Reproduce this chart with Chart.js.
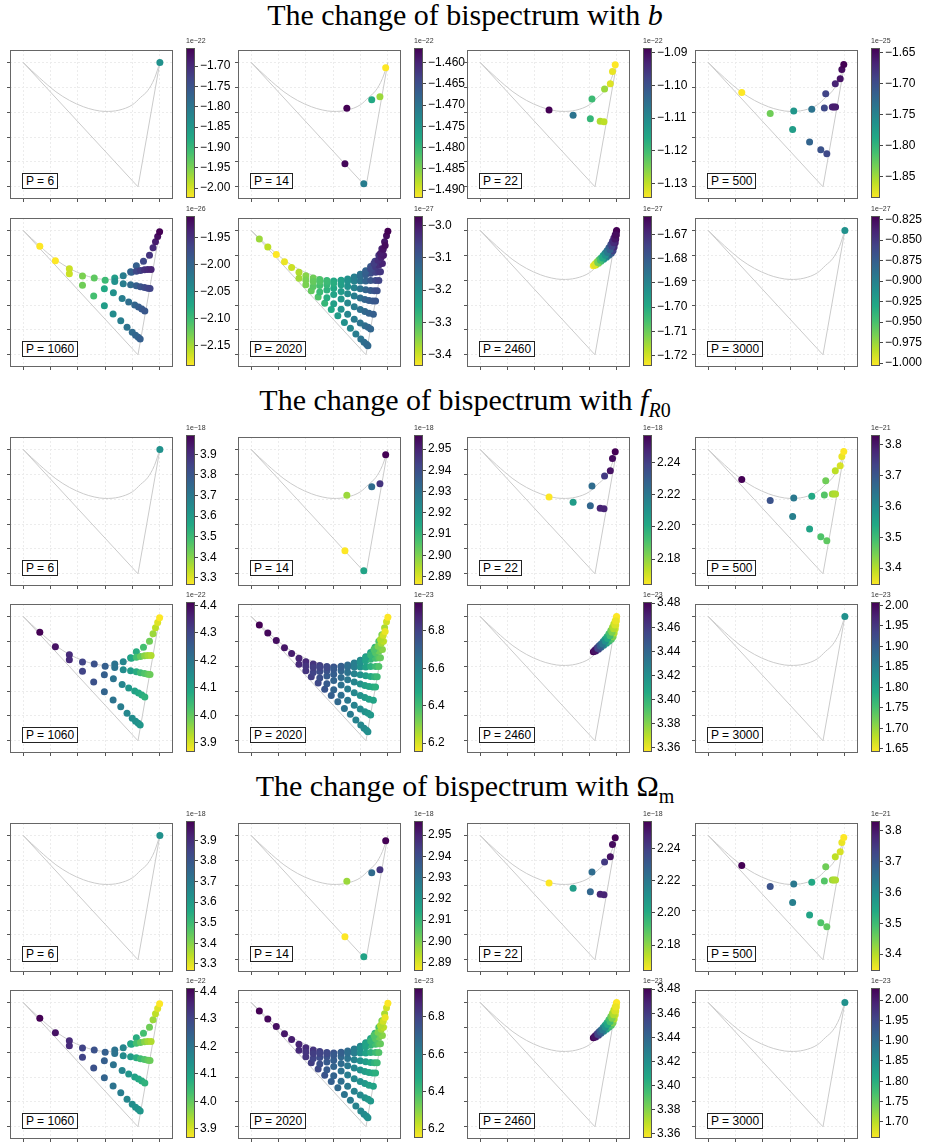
<!DOCTYPE html>
<html>
<head>
<meta charset="utf-8">
<script src="https://cdn.jsdelivr.net/npm/chart.js@4.4.1/dist/chart.umd.min.js"></script>
<style>
body { margin: 0; background: #fff; width: 930px; height: 1144px; position: relative; overflow: hidden;
       font-family: "Liberation Sans", Arial, sans-serif; }
.title { position: absolute; left: 0; width: 930px; text-align: center; font-family: "Liberation Serif", serif;
         font-size: 30px; line-height: 30px; color: #000; white-space: nowrap; }
.title sub { font-size: 20px; line-height: 0; }
canvas { position: absolute; }
.plab { position: absolute; border: 1px solid #222; background: #fff; font-size: 12px; line-height: 14px;
        padding: 0 3px; color: #000; white-space: nowrap; }
.expo { position: absolute; font-size: 7px; line-height: 8px; color: #333; white-space: nowrap; }
</style>
</head>
<body>
<div class="title" style="top:0px">The change of bispectrum with <i>b</i></div>
<div class="title" style="top:385px">The change of bispectrum with <i>f</i><sub><i>R</i>0</sub></div>
<div class="title" style="top:771px">The change of bispectrum with Ω<sub>m</sub></div>
<script>
/* bispectrum panels — 3 parameters x 8 values of P, coloured by viridis_r */

// ── Outline of the configuration space ────────────────────────────────────
const curveX = [0, 0.6, 1.2, 1.7, 2.2, 2.6, 3.0, 3.5, 4.0, 4.3, 4.55, 4.8, 5.0];
const curveY = [5, 4.38, 3.82, 3.47, 3.22, 3.09, 3.03, 3.08, 3.30, 3.60, 3.86, 4.35, 5.0];
const edgeX  = [0, 4.2, 5.0];
const edgeY  = [5, 0, 5];

// ── Point positions (same for every parameter) ────────────────────────────
const P6_x = [5.0];
const P6_y = [5.0];
const P14_x = [3.50, 4.41, 4.71, 4.92, 3.43, 4.12];
const P14_y = [3.16, 3.50, 3.62, 4.79, 0.93, 0.12];
const P22_x = [2.52, 3.40, 4.09, 4.03, 4.39, 4.53, 4.55, 4.76, 4.84, 4.94];
const P22_y = [3.09, 2.88, 3.53, 2.74, 2.64, 2.62, 3.93, 4.14, 4.64, 4.91];
const P500_x = [1.23, 2.27, 3.13, 3.79, 3.09, 3.71, 4.12, 4.34, 4.25, 4.30, 4.54, 4.60, 4.66, 4.65, 4.83, 4.89, 4.96];
const P500_y = [3.79, 2.95, 3.05, 3.12, 2.30, 1.80, 1.49, 1.33, 3.17, 3.74, 3.21, 3.21, 3.21, 4.14, 4.34, 4.72, 4.92];
const P1060_x = [0.61, 1.18, 1.69, 2.17, 2.60, 3.00, 3.35, 3.66, 3.93, 4.14, 4.40, 4.62, 4.75, 4.84, 4.92, 4.99,
                 1.69, 2.17, 2.58, 2.97, 3.29, 3.57, 3.80, 3.99, 4.11, 4.21, 4.28,
                 2.97, 3.30, 3.62, 3.86, 4.08, 4.22, 4.34, 4.45,
                 3.35, 3.66, 3.93, 4.14, 4.29, 4.44, 4.56, 4.64,
                 3.96, 4.14, 4.29, 4.44, 4.56, 4.68];
const P1060_y = [4.36, 3.78, 3.46, 3.17, 3.09, 3.00, 3.09, 3.18, 3.34, 3.58, 3.76, 4.00, 4.30, 4.55, 4.76, 4.95,
                 3.26, 2.80, 2.36, 1.97, 1.64, 1.37, 1.11, 0.91, 0.79, 0.71, 0.64,
                 2.66, 2.49, 2.26, 2.12, 2.00, 1.92, 1.84, 1.76,
                 2.95, 2.86, 2.82, 2.78, 2.74, 2.71, 2.68, 2.67,
                 3.32, 3.36, 3.39, 3.42, 3.43, 3.43];
const P2020_x = [0.30, 0.61, 0.92, 1.22, 1.48, 1.75, 2.00, 2.27, 2.51, 2.77, 3.02, 3.29, 3.53, 3.77, 3.99, 4.19, 4.37, 4.53, 4.67, 4.78, 4.88, 4.95, 5.00,
                 1.75, 2.00, 2.20, 2.45, 2.69, 2.93, 3.17, 3.41, 3.63, 3.83, 4.01, 4.13, 4.22, 4.27,
                 2.00, 2.27, 2.51, 2.77, 3.02, 3.29, 3.53, 3.77, 3.99, 4.16, 4.28, 4.37,
                 2.27, 2.51, 2.77, 3.02, 3.29, 3.53, 3.77, 3.99, 4.16, 4.31, 4.47,
                 2.51, 2.77, 3.02, 3.29, 3.53, 3.77, 3.99, 4.16, 4.31, 4.45, 4.55,
                 2.77, 3.02, 3.29, 3.53, 3.77, 3.99, 4.19, 4.37, 4.51, 4.61,
                 3.29, 3.53, 3.77, 3.99, 4.19, 4.37, 4.55, 4.67,
                 3.77, 3.99, 4.19, 4.37, 4.55, 4.67, 4.73,
                 4.19, 4.37, 4.55, 4.67, 4.80,
                 4.49, 4.64, 4.76, 4.84,
                 4.73, 4.83, 4.90];
const P2020_y = [4.66, 4.33, 4.03, 3.74, 3.51, 3.32, 3.18, 3.09, 3.03, 2.99, 2.97, 3.00, 3.05, 3.13, 3.24, 3.38, 3.55, 3.76, 4.00, 4.26, 4.55, 4.79, 4.97,
                 3.08, 2.82, 2.58, 2.32, 2.07, 1.82, 1.57, 1.30, 1.07, 0.84, 0.64, 0.51, 0.42, 0.36,
                 3.01, 2.75, 2.53, 2.29, 2.05, 1.83, 1.63, 1.43, 1.28, 1.17, 1.11, 1.04,
                 2.95, 2.79, 2.61, 2.42, 2.24, 2.08, 1.93, 1.82, 1.74, 1.67, 1.63,
                 2.95, 2.82, 2.68, 2.55, 2.45, 2.36, 2.28, 2.22, 2.18, 2.16, 2.16,
                 2.95, 2.88, 2.82, 2.75, 2.70, 2.66, 2.62, 2.59, 2.58, 2.58,
                 2.97, 2.97, 2.97, 2.97, 2.97, 2.99, 2.99, 2.99,
                 3.11, 3.16, 3.22, 3.28, 3.32, 3.34, 3.34,
                 3.34, 3.45, 3.54, 3.61, 3.67,
                 3.67, 3.80, 3.92, 4.00,
                 4.07, 4.24, 4.39];
const P2460_x = [4.14, 4.21, 4.28, 4.35, 4.42, 4.50, 4.57, 4.64, 4.71, 4.78, 4.84, 4.89, 4.94, 4.98, 4.99,
                 4.23, 4.33, 4.42, 4.52, 4.62, 4.71, 4.80, 4.86, 4.90, 4.94, 4.96, 4.98,
                 4.18, 4.30, 4.40, 4.48, 4.58, 4.66, 4.75, 4.82, 4.88, 4.93, 4.96];
const P2460_y = [3.58, 3.66, 3.74, 3.82, 3.89, 3.99, 4.08, 4.18, 4.30, 4.43, 4.57, 4.70, 4.83, 4.95, 5.00,
                 3.61, 3.68, 3.76, 3.84, 3.92, 4.00, 4.08, 4.18, 4.33, 4.50, 4.66, 4.82,
                 3.61, 3.71, 3.80, 3.89, 4.00, 4.11, 4.22, 4.36, 4.50, 4.66, 4.82];
const P3000_x = [5.0];
const P3000_y = [5.0];

// ── Bispectrum values, in units of the colour-bar exponent ────────────────
// b
const b_P6    = [-1.84];
const b_P14   = [-1.4566, -1.4777, -1.4865, -1.4918, -1.4572, -1.4714];
const b_P22   = [-1.0886, -1.1060, -1.1197, -1.1188, -1.1289, -1.1298, -1.1275, -1.1321, -1.1330, -1.1344];
const b_P500  = [-1.8844, -1.8312, -1.7683, -1.7345, -1.7756, -1.7200, -1.7031, -1.6958, -1.6958, -1.6910,
                 -1.6668, -1.6620, -1.6620, -1.6668, -1.6547, -1.6499, -1.6426];
const b_P1060 = [-2.1879, -2.1879, -2.1656, -2.1322, -2.1183, -2.0988, -2.0627, -2.0265, -2.0070, -1.9931, -1.9708, -1.9513, -1.9430, -1.9318, -1.9207, -1.9096,
                 -2.1656, -2.1267, -2.1044, -2.0627, -2.0432, -2.0265, -2.0154, -2.0070, -2.0014, -1.9986, -1.9931,
                 -2.0766, -2.0488, -2.0265, -2.0098, -2.0014, -1.9931, -1.9875, -1.9847,
                 -2.0488, -2.0265, -2.0070, -1.9931, -1.9819, -1.9736, -1.9680, -1.9652,
                 -1.9931, -1.9708, -1.9597, -1.9485, -1.9430, -1.9374];
const b_P2020 = [-3.3642, -3.3873, -3.4335, -3.4196, -3.3965, -3.3781, -3.3504, -3.3319, -3.3042, -3.2765, -3.2487, -3.2256, -3.2026, -3.1748, -3.1471, -3.1240, -3.0963, -3.0640, -3.0409, -3.0178, -2.9993, -2.9855, -2.9716,
                 -3.3688, -3.3411, -3.3226, -3.3042, -3.2765, -3.2487, -3.2256, -3.2026, -3.1841, -3.1656, -3.1471, -3.1379, -3.1333, -3.1286,
                 -3.3411, -3.3134, -3.2857, -3.2580, -3.2303, -3.2026, -3.1795, -3.1610, -3.1471, -3.1379, -3.1286, -3.1240,
                 -3.3226, -3.2949, -3.2672, -3.2395, -3.2118, -3.1841, -3.1610, -3.1425, -3.1286, -3.1194, -3.1102,
                 -3.3042, -3.2765, -3.2487, -3.2210, -3.1933, -3.1656, -3.1425, -3.1240, -3.1102, -3.1009, -3.0963,
                 -3.2857, -3.2580, -3.2303, -3.2026, -3.1748, -3.1471, -3.1240, -3.1056, -3.0917, -3.0825,
                 -3.2303, -3.2026, -3.1748, -3.1471, -3.1194, -3.0963, -3.0778, -3.0640,
                 -3.1656, -3.1379, -3.1102, -3.0825, -3.0640, -3.0501, -3.0455,
                 -3.1102, -3.0778, -3.0501, -3.0316, -3.0178,
                 -3.0547, -3.0316, -3.0132, -3.0039,
                 -3.0086, -2.9947, -2.9855];
const b_P2460 = [-1.7242, -1.7193, -1.7149, -1.7088, -1.7026, -1.6964, -1.6903, -1.6859, -1.6810, -1.6761, -1.6718, -1.6687, -1.6656, -1.6637, -1.6625,
                 -1.7180, -1.7119, -1.7045, -1.6964, -1.6903, -1.6841, -1.6798, -1.6748, -1.6699, -1.6674, -1.6650, -1.6637,
                 -1.7211, -1.7119, -1.7057, -1.6995, -1.6933, -1.6872, -1.6810, -1.6748, -1.6699, -1.6662, -1.6644];
const b_P3000 = [-0.912];

// f_R0
const fr_P6    = [3.63];
const fr_P14   = [2.8967, 2.9320, 2.9460, 2.9565, 2.8861, 2.9157];
const fr_P22   = [2.1641, 2.2059, 2.2244, 2.2263, 2.2476, 2.2476, 2.2411, 2.2523, 2.2541, 2.2569];
const fr_P500  = [3.8318, 3.7103, 3.6374, 3.5403, 3.6229, 3.5500, 3.4820, 3.4674, 3.4771, 3.4528,
                  3.4188, 3.4091, 3.4042, 3.3945, 3.3751, 3.3605, 3.3459];
const fr_P1060 = [4.411, 4.384, 4.346, 4.302, 4.275, 4.248, 4.204, 4.166, 4.112, 4.074, 4.030, 3.987, 3.949, 3.921, 3.894, 3.867,
                  4.346, 4.302, 4.275, 4.237, 4.204, 4.183, 4.161, 4.150, 4.139, 4.139, 4.128,
                  4.248, 4.204, 4.166, 4.128, 4.101, 4.085, 4.074, 4.063,
                  4.204, 4.150, 4.112, 4.074, 4.041, 4.019, 4.003, 3.992,
                  4.085, 4.030, 3.998, 3.965, 3.943, 3.932];
const fr_P2020 = [6.953, 6.937, 6.921, 6.905, 6.889, 6.873, 6.857, 6.833, 6.809, 6.777, 6.745, 6.713, 6.673, 6.633, 6.585, 6.537, 6.489, 6.433, 6.377, 6.313, 6.257, 6.209, 6.153,
                  6.857, 6.833, 6.809, 6.777, 6.745, 6.713, 6.681, 6.649, 6.625, 6.601, 6.585, 6.577, 6.569, 6.561,
                  6.833, 6.793, 6.761, 6.729, 6.697, 6.665, 6.633, 6.601, 6.577, 6.553, 6.537, 6.529,
                  6.809, 6.769, 6.729, 6.697, 6.657, 6.617, 6.585, 6.553, 6.529, 6.505, 6.489,
                  6.793, 6.753, 6.713, 6.673, 6.633, 6.593, 6.553, 6.513, 6.489, 6.465, 6.449,
                  6.777, 6.729, 6.689, 6.649, 6.601, 6.553, 6.513, 6.473, 6.441, 6.417,
                  6.713, 6.665, 6.617, 6.553, 6.497, 6.449, 6.409, 6.377,
                  6.617, 6.553, 6.489, 6.433, 6.393, 6.361, 6.345,
                  6.489, 6.425, 6.369, 6.329, 6.297,
                  6.377, 6.313, 6.265, 6.233,
                  6.249, 6.209, 6.177];
const fr_P2460 = [3.4808, 3.4709, 3.4622, 3.4498, 3.4374, 3.4250, 3.4125, 3.4039, 3.3939, 3.3840, 3.3753, 3.3691, 3.3629, 3.3592, 3.3567,
                  3.4684, 3.4560, 3.4411, 3.4250, 3.4125, 3.4001, 3.3914, 3.3815, 3.3716, 3.3666, 3.3617, 3.3592,
                  3.4746, 3.4560, 3.4436, 3.4312, 3.4188, 3.4063, 3.3939, 3.3815, 3.3716, 3.3641, 3.3604];
const fr_P3000 = [1.825];

// Omega_m (same as f_R0 except the last panel)
const om_P6 = fr_P6, om_P14 = fr_P14, om_P22 = fr_P22, om_P500 = fr_P500;
const om_P1060 = fr_P1060, om_P2020 = fr_P2020, om_P2460 = fr_P2460;
const om_P3000 = [1.845];

// colour-bar exponents and tick steps
const b_exp   = [-22, -22, -22, -25, -26, -27, -27, -27];
const b_step  = [0.05, 0.005, 0.01, 0.05, 0.05, 0.1, 0.01, 0.025];
const fr_exp  = [-18, -18, -18, -21, -22, -23, -23, -23];
const fr_step = [0.1, 0.01, 0.02, 0.1, 0.1, 0.2, 0.02, 0.05];

const P_LABELS = ['P = 6', 'P = 14', 'P = 22', 'P = 500', 'P = 1060', 'P = 2020', 'P = 2460', 'P = 3000'];
const POS_X = [P6_x, P14_x, P22_x, P500_x, P1060_x, P2020_x, P2460_x, P3000_x];
const POS_Y = [P6_y, P14_y, P22_y, P500_y, P1060_y, P2020_y, P2460_y, P3000_y];

const SECTIONS = [
    { vals: [b_P6, b_P14, b_P22, b_P500, b_P1060, b_P2020, b_P2460, b_P3000], exps: b_exp, steps: b_step },
    { vals: [fr_P6, fr_P14, fr_P22, fr_P500, fr_P1060, fr_P2020, fr_P2460, fr_P3000], exps: fr_exp, steps: fr_step },
    { vals: [om_P6, om_P14, om_P22, om_P500, om_P1060, om_P2020, om_P2460, om_P3000], exps: fr_exp, steps: fr_step }
];

// ── Layout (px) ───────────────────────────────────────────────────────────
const COL_X  = [10, 238, 467, 695];
const ROW_Y  = [47, 215, 434, 601, 820, 987];
const PLOT_W = 166, PLOT_H = 152;
const CB_DX  = 176, CB_W = 9;

// ── viridis ───────────────────────────────────────────────────────────────
const VIRIDIS = ['#440154', '#482475', '#414487', '#355f8d', '#2a788e', '#21918c',
                 '#22a884', '#44bf70', '#7ad151', '#bddf26', '#fde725'];
function hexRgb(c) { return [1, 3, 5].map(i => parseInt(c.slice(i, i + 2), 16)); }
function viridis(t) {
    t = Math.min(1, Math.max(0, t)) * (VIRIDIS.length - 1);
    const i = Math.min(Math.floor(t), VIRIDIS.length - 2), f = t - i;
    const a = hexRgb(VIRIDIS[i]), b = hexRgb(VIRIDIS[i + 1]);
    return `rgb(${a.map((v, k) => Math.round(v + (b[k] - v) * f)).join(',')})`;
}

function range(vals) {
    let lo = Math.min(...vals), hi = Math.max(...vals);
    if (hi - lo < 1e-12) {            // single value: widen by 10 %
        const a = lo * 0.9, b = lo * 1.1;
        lo = Math.min(a, b); hi = Math.max(a, b);
    }
    return [lo, hi];
}
const decimals = step => (String(step).split('.')[1] || '').length;
const fmt = (v, d) => v.toFixed(d).replace('-', '\u2212');

const frame = {
    id: 'frame',
    afterDraw(chart) {
        const a = chart.chartArea, ctx = chart.ctx;
        ctx.save();
        ctx.strokeStyle = chart.options.plugins.frame.color;
        ctx.lineWidth = 1;
        ctx.strokeRect(Math.round(a.left) + 0.5, Math.round(a.top) + 0.5,
                       Math.round(a.right - a.left) - 1, Math.round(a.bottom - a.top) - 1);
        ctx.restore();
    }
};

function addDiv(cls, html, left, top) {
    const d = document.createElement('div');
    d.className = cls; d.innerHTML = html;
    d.style.left = left + 'px'; d.style.top = top + 'px';
    document.body.appendChild(d);
}

function addCanvas(left, top, w, h) {
    const cv = document.createElement('canvas');
    cv.width = w; cv.height = h;
    cv.style.left = left + 'px'; cv.style.top = top + 'px';
    cv.style.width = w + 'px'; cv.style.height = h + 'px';
    document.body.appendChild(cv);
    return cv;
}

function drawPanel(sec, i) {
    const S = SECTIONS[sec];
    const top = ROW_Y[sec * 2 + (i < 4 ? 0 : 1)];
    const left = COL_X[i % 4];
    const xs = POS_X[i], ys = POS_Y[i], vs = S.vals[i];
    const [lo, hi] = range(vs);
    const colors = vs.map(v => viridis(1 - (v - lo) / (hi - lo)));
    const gridTicks = s => { s.ticks = [0, 1, 2, 3, 4, 5].map(v => ({ value: v })); };
    const axis = (min, max, fitKey) => ({
        min, max,
        afterBuildTicks: gridTicks,
        afterFit: s => { s[fitKey] = 4; },
        ticks: { display: false },
        grid: { color: '#ececec', lineWidth: 1, drawTicks: true, tickLength: 3, tickColor: '#555' },
        border: { display: false, dash: [2, 2] }
    });

    // scatter panel
    new Chart(addCanvas(left - 4, top - 1, PLOT_W + 5, PLOT_H + 5), {
        type: 'scatter',
        data: {
            datasets: [
                {
                    data: curveX.map((x, k) => ({ x, y: curveY[k] })),
                    showLine: true, cubicInterpolationMode: 'monotone',
                    borderColor: '#cbcbcb', borderWidth: 1, pointRadius: 0, order: 2
                },
                {
                    data: edgeX.map((x, k) => ({ x, y: edgeY[k] })),
                    showLine: true, tension: 0,
                    borderColor: '#cbcbcb', borderWidth: 1, pointRadius: 0, order: 2
                },
                {
                    data: xs.map((x, k) => ({ x, y: ys[k] })),
                    pointBackgroundColor: colors, pointBorderWidth: 0,
                    pointRadius: 3.5, order: 1
                }
            ]
        },
        options: {
            responsive: false, animation: false, events: [],
            layout: { padding: { top: 1, right: 1, left: 0, bottom: 0 } },
            plugins: { legend: { display: false }, tooltip: { enabled: false }, frame: { color: '#666' } },
            scales: {
                x: axis(-0.48, 5.48, 'height'),
                y: axis(-0.49, 5.5, 'width')
            }
        },
        plugins: [frame]
    });

    // colour bar
    const step = S.steps[i], dec = decimals(step);
    new Chart(addCanvas(left + CB_DX, top - 8, 60, PLOT_H + 16), {
        type: 'bar',
        data: {
            labels: [''],
            datasets: [{
                data: [[lo, hi]],
                barPercentage: 1, categoryPercentage: 1, borderWidth: 0,
                backgroundColor: c => {
                    const a = c.chart.chartArea;
                    if (!a) return '#888';
                    const g = c.chart.ctx.createLinearGradient(0, a.bottom, 0, a.top);
                    for (let k = 0; k <= 10; k++) g.addColorStop(k / 10, viridis(1 - k / 10));
                    return g;
                }
            }]
        },
        options: {
            responsive: false, animation: false, events: [],
            layout: { padding: { top: 8, bottom: 8, left: 0, right: 0 } },
            plugins: { legend: { display: false }, tooltip: { enabled: false }, frame: { color: '#555' } },
            scales: {
                x: { display: false },
                y: {
                    position: 'right', min: lo, max: hi,
                    afterFit: s => { s.width = 60 - CB_W; },
                    afterBuildTicks: s => {
                        const t = [];
                        for (let v = Math.ceil(lo / step - 1e-6) * step; v <= hi + 1e-9; v += step) t.push({ value: v });
                        s.ticks = t;
                    },
                    ticks: {
                        padding: 2, color: '#000', autoSkip: false,
                        font: { family: '"Liberation Sans", Arial, sans-serif', size: 12 },
                        callback: v => fmt(v, dec)
                    },
                    grid: { drawOnChartArea: false, drawTicks: true, tickLength: 3, tickColor: '#444' },
                    border: { display: false }
                }
            }
        },
        plugins: [frame]
    });

    addDiv('expo', '1e\u2212' + Math.abs(S.exps[i]), left + CB_DX, top - 10);
    addDiv('plab', P_LABELS[i], left + 12, top + PLOT_H - 10 - 16);
}

for (let sec = 0; sec < 3; sec++)
    for (let i = 0; i < 8; i++) drawPanel(sec, i);
</script>
</body>
</html>
